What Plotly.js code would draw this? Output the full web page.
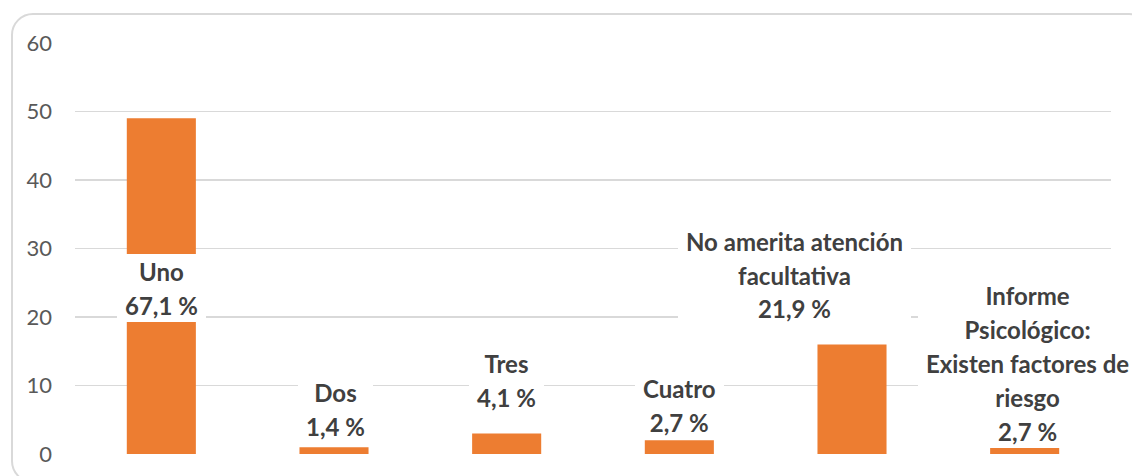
<!DOCTYPE html>
<html>
<head>
<meta charset="utf-8">
<script src="https://cdn.plot.ly/plotly-3.0.1.min.js"></script>
<style>
  html, body { margin: 0; padding: 0; background: #fff; }
  #wrap { position: relative; width: 1132px; height: 476px; overflow: hidden; }
  #chart { width: 1132px; height: 476px; }
  #frame { position: absolute; left: 11px; top: 13px; width: 1140px; height: 470px;
           border: 2px solid #d9d9d9; border-radius: 22px; box-sizing: border-box; pointer-events: none; }
</style>
</head>
<body>
<div id="wrap">
  <div id="chart"></div>
  <div id="frame"></div>
</div>
<script>
// ---- data ----
const categories = ["Uno", "Dos", "Tres", "Cuatro", "No amerita atención facultativa", "Informe Psicológico: Existen factores de riesgo"];
const values = [49, 1, 3, 2, 16, 2];
const labelLines = [
  ["Uno"],
  ["Dos"],
  ["Tres"],
  ["Cuatro"],
  ["No amerita atención", "facultativa"],
  ["Informe", "Psicológico:", "Existen factores de", "riesgo"]
];
const yTicks = [0, 10, 20, 30, 40, 50, 60];

// ---- label placement (layout: data-unit centre of each block, pixel x offset) ----
const labelCenter = [24.2, 6.6, 10.8, 7.2, 26.2, 13.3];
const labelXShift = [0, 1, 0, 0, -58, 3];

const total = values.reduce((a, b) => a + b, 0);
const pctText = values.map(v => (v / total * 100).toFixed(1).replace('.', ',') + ' %');

const labelFont = { family: 'Lato, "DejaVu Sans", sans-serif', size: 24, color: '#404040', weight: 'bold' };
const lineH = 33.8;

const canvas = document.createElement('canvas');
const ctx = canvas.getContext('2d');
ctx.font = 'bold 24px Lato';

const annotations = [];
categories.forEach((c, i) => {
  const lines = labelLines[i].concat([pctText[i]]);
  const w = Math.max(...lines.map(l => ctx.measureText(l).width)) + 16;
  const n = lines.length;
  lines.forEach((l, k) => {
    annotations.push({
      x: c, y: labelCenter[i], xref: 'x', yref: 'y',
      text: '<b>' + l + '</b>', showarrow: false,
      font: labelFont, bgcolor: '#ffffff', borderpad: 0, borderwidth: 0,
      width: w, height: lineH + 0.5, align: 'center', valign: 'middle',
      xshift: labelXShift[i],
      yshift: ((n - 1) / 2 - k) * lineH
    });
  });
});

const trace = {
  type: 'bar', x: categories, y: values,
  marker: { color: '#ED7D31' },
  hoverinfo: 'skip'
};

const layout = {
  width: 1132, height: 476,
  margin: { l: 75, r: 21, t: 43, b: 22 },
  paper_bgcolor: '#ffffff', plot_bgcolor: '#ffffff',
  bargap: 0.6,
  showlegend: false,
  xaxis: { type: 'category', range: [-0.5, categories.length - 0.5], autorange: false,
           showticklabels: false, showgrid: false, zeroline: false, showline: false, ticks: '' },
  yaxis: {
    range: [0, 60], autorange: false, tickvals: yTicks, ticktext: yTicks.map(String),
    showgrid: true, gridcolor: '#d9d9d9', gridwidth: 1.5,
    zeroline: false, showline: false, ticks: '',
    ticklabelstandoff: 22,
    tickfont: { family: 'Lato, "DejaVu Sans", sans-serif', size: 22, color: '#595959' }
  },
  annotations: annotations
};

Plotly.newPlot('chart', [trace], layout, { staticPlot: true, displayModeBar: false });
</script>
</body>
</html>
